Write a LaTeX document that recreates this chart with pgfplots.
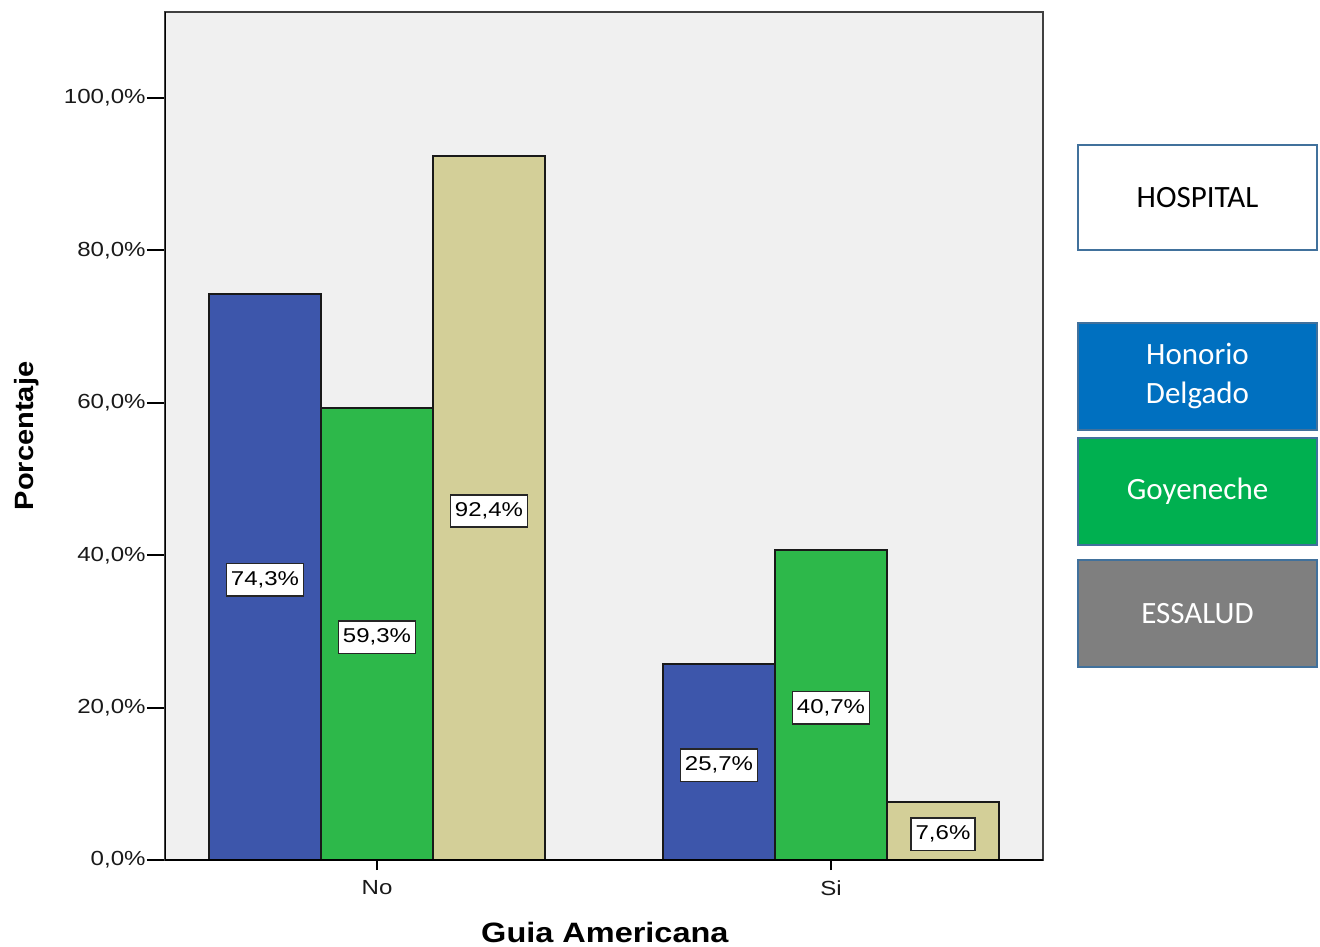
\documentclass[border=0pt]{standalone}
\usepackage{pgfplots}
\pgfplotsset{compat=1.18}
\usepackage{fontspec}
\setmainfont{Liberation Sans}
\newfontfamily\tickfont[FakeStretch=1.18]{Liberation Sans}
\newfontfamily\valfont[FakeStretch=1.2]{Liberation Sans}
\newfontfamily\labfont[FakeStretch=1.1]{Liberation Sans}
\newfontfamily\xlabfont[FakeStretch=1.16]{Liberation Sans}
\newfontfamily\legfont{Carlito}
\definecolor{barblue}{HTML}{3D56AB}
\definecolor{bargreen}{HTML}{2DB84A}
\definecolor{bartan}{HTML}{D3CF98}
\definecolor{plotbg}{HTML}{F0F0F0}
\definecolor{legblue}{HTML}{0070C0}
\definecolor{leggreen}{HTML}{00B050}
\definecolor{leggray}{HTML}{7F7F7F}
\definecolor{legedge}{HTML}{41719C}
\begin{document}
\begin{tikzpicture}
\useasboundingbox (0,0) rectangle (660pt,473pt);
\begin{axis}[
  at={(82.5pt,43pt)}, anchor=south west,
  scale only axis, width=439pt, height=424pt,
  xmin=-0.467, xmax=1.467, ymin=0, ymax=111.3,
  ybar=0pt, bar width=56pt,
  axis background/.style={fill=plotbg},
  axis line style={black!75, line width=0.7pt},
  xtick={0,1}, xticklabels={No,Si},
  ytick={0,20,40,60,80,100},
  yticklabels={{0,0\%},{20,0\%},{40,0\%},{60,0\%},{80,0\%},{100,0\%}},
  tick align=outside,
  xtick pos=bottom, ytick pos=left,
  major tick length=9pt,
  xtick style={/pgfplots/major tick length=5pt},
  tick style={black, line width=1pt},
  ticklabel style={font={\tickfont\fontsize{10.2pt}{12pt}\selectfont}, text=black!90},
  yticklabel style={inner sep=0.5pt},
  xticklabel style={inner sep=1pt},
  every axis y label/.style={at={(axis description cs:-0.158,0.5)}, rotate=90, anchor=center},
  every axis x label/.style={at={(axis description cs:0.501,-0.085)}, anchor=center},
  ylabel={\labfont\bfseries\fontsize{13.2pt}{15pt}\selectfont Porcentaje},
  xlabel={\xlabfont\bfseries\fontsize{14pt}{17pt}\selectfont Guia Americana},
  every axis plot/.append style={draw=black!90, line width=0.8pt},
  visualization depends on={rawy \as \rawy},
  nodes near coords={\pgfmathprintnumber[fixed,fixed zerofill,precision=1,use comma,assume math mode=true]{\pgfplotspointmeta}\%},
  every node near coord/.append style={font={\valfont\fontsize{10pt}{12pt}\selectfont}, text=black,
    fill=white, draw=black!85, line width=0.8pt, inner xsep=2.3pt, inner ysep=4pt,
    anchor=center, shift={(axis direction cs:0,-\rawy/2)}, yshift=-1.5pt},
]
\addplot[fill=barblue] coordinates {(0,74.3) (1,25.7)};
\addplot[fill=bargreen] coordinates {(0,59.3) (1,40.7)};
\addplot[fill=bartan] coordinates {(0,92.4) (1,7.6)};
\draw[black, line width=1.1pt] (rel axis cs:0,1) -- (rel axis cs:0,0) -- (rel axis cs:1,0);
\end{axis}
\begin{scope}[line width=1.1pt, draw=legedge]
\draw[fill=white] (539pt,348pt) rectangle (658.5pt,400.5pt);
\node[font={\legfont\fontsize{15.5pt}{18pt}\selectfont}, text=black] at (598.75pt,374.25pt) {HOSPITAL};
\draw[fill=legblue] (539pt,258pt) rectangle (658.5pt,311.5pt);
\node[font={\legfont\fontsize{15.5pt}{19.5pt}\selectfont}, text=white, align=center] at (598.75pt,284.75pt) {Honorio\\Delgado};
\draw[fill=leggreen] (539pt,200.5pt) rectangle (658.5pt,254pt);
\node[font={\legfont\fontsize{15.5pt}{18pt}\selectfont}, text=white] at (598.75pt,227.25pt) {Goyeneche};
\draw[fill=leggray] (539pt,139.5pt) rectangle (658.5pt,193pt);
\node[font={\legfont\fontsize{15.5pt}{18pt}\selectfont}, text=white] at (598.75pt,166.25pt) {ESSALUD};
\end{scope}
\end{tikzpicture}
\end{document}
